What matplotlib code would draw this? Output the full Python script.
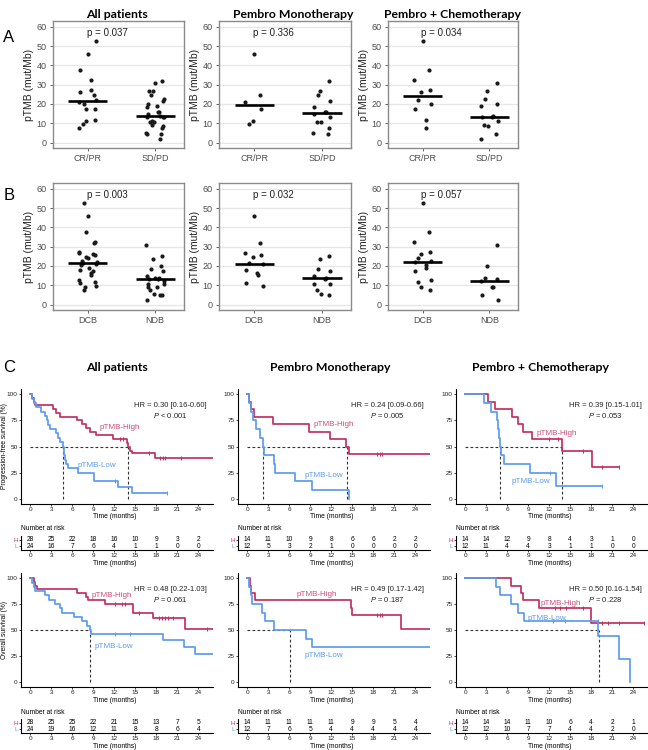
import numpy as np
import matplotlib
matplotlib.use('Agg')
import matplotlib.pyplot as plt

plt.rcParams['font.family'] = ['Liberation Sans', 'DejaVu Sans']
plt.rcParams['mathtext.fontset'] = 'custom'
plt.rcParams['mathtext.it'] = 'Liberation Sans:italic'
plt.rcParams['mathtext.rm'] = 'Liberation Sans'

# ------------------------------------------------------------------ data
panel_titles = ['All patients', 'Pembro Monotherapy', 'Pembro + Chemotherapy']
resp_cats = ['CR/PR', 'SD/PD']
benefit_cats = ['DCB', 'NDB']

# pTMB (mut/Mb) by response
all_crpr = [45.9, 24.8, 21.1, 17.5, 11.4, 9.5, 52.5, 37.4, 32.5, 27.0, 26.0, 22.0, 20.0, 17.5, 11.5, 7.8]
all_sdpd = [31.7, 26.9, 24.8, 21.3, 18.7, 16.1, 16.0, 14.7, 13.5, 10.6, 10.6, 7.5, 5.2, 4.5,
            31.0, 26.5, 22.5, 20.1, 19.2, 14.0, 13.2, 13.5, 11.4, 9.2, 8.7, 4.5, 1.9]
mono_crpr = [45.9, 24.8, 21.1, 17.5, 11.4, 9.5]
mono_sdpd = [31.7, 26.9, 24.8, 21.3, 18.7, 16.1, 16.0, 14.7, 13.5, 10.6, 10.6, 7.5, 5.2, 4.5]
chemo_crpr = [52.5, 37.4, 32.5, 27.0, 26.0, 22.0, 20.0, 17.5, 11.5, 7.8]
chemo_sdpd = [31.0, 26.5, 22.5, 20.1, 19.2, 14.0, 13.2, 13.5, 11.4, 9.2, 8.7, 4.5, 1.9]
p_resp = ['p = 0.037', 'p = 0.336', 'p = 0.034']

# pTMB by clinical benefit
all_dcb = [46.0, 31.8, 26.8, 25.6, 24.7, 21.3, 21.0, 17.8, 16.4, 15.2, 11.4, 9.7,
           52.5, 37.4, 32.5, 27.0, 26.0, 24.0, 22.5, 22.0, 20.3, 19.0, 17.5, 12.5, 11.5, 9.2, 7.8]
all_ndb = [25.2, 23.5, 18.7, 17.3, 14.7, 14.0, 13.5, 10.9, 10.9, 7.4, 5.7, 4.8,
           31.0, 20.0, 14.0, 13.1, 12.3, 9.2, 9.2, 4.8, 2.2]
mono_dcb = [46.0, 31.8, 26.8, 25.6, 24.7, 21.3, 21.0, 17.8, 16.4, 15.2, 11.4, 9.7]
mono_ndb = [25.2, 23.5, 18.7, 17.3, 14.7, 14.0, 13.5, 10.9, 10.9, 7.4, 5.7, 4.8]
chemo_dcb = [52.5, 37.4, 32.5, 27.0, 26.0, 24.0, 22.5, 22.0, 20.3, 19.0, 17.5, 12.5, 11.5, 9.2, 7.8]
chemo_ndb = [31.0, 20.0, 14.0, 13.1, 12.3, 9.2, 9.2, 4.8, 2.2]
p_benefit = ['p = 0.003', 'p = 0.032', 'p = 0.057']

# Kaplan-Meier: PFS
pfs_all_hi_t = [0, 0.3, 0.5, 0.7, 3.3, 3.7, 4.3, 6.7, 7.4, 8.0, 8.6, 9.4, 11.9, 13.8, 14.0, 14.3, 14.6, 17.8]
pfs_all_hi_s = [100, 96.4, 92.9, 89.3, 85.7, 82.1, 78.6, 75.0, 71.4, 67.9, 64.3, 60.7, 57.1, 53.3, 49.5, 46.0, 43.5, 39.2]
pfs_all_hi_c = [12.8, 13.3, 17.0, 18.6, 18.9, 19.3, 21.6]
pfs_all_hi_end = 26.1
pfs_all_lo_t = [0, 0.2, 0.5, 0.9, 1.6, 2.1, 2.4, 2.6, 2.9, 3.7, 4.0, 4.2, 4.7, 4.8, 4.9, 5.0, 5.1, 5.4, 6.8, 9.1, 12.6, 14.6]
pfs_all_lo_s = [100, 95.8, 91.7, 87.5, 83.3, 79.2, 75.0, 70.8, 66.7, 62.5, 58.3, 54.2, 50.0, 45.8, 41.7, 37.5, 33.3, 29.2, 25.0, 16.7, 11.1, 5.6]
pfs_all_lo_c = [12.1, 19.5]
pfs_all_lo_end = 19.5

pfs_mono_hi_t = [0, 0.2, 0.5, 0.95, 3.7, 8.9, 11.9, 14.1, 14.6]
pfs_mono_hi_s = [100, 92.9, 85.7, 78.6, 71.4, 64.3, 57.1, 50.0, 42.9]
pfs_mono_hi_c = [18.5, 18.9, 19.3]
pfs_mono_hi_end = 26.1
pfs_mono_lo_t = [0, 0.25, 0.55, 0.85, 1.3, 1.8, 2.3, 2.4, 3.9, 4.05, 6.9, 9.2, 14.6]
pfs_mono_lo_s = [100, 91.7, 83.3, 75.0, 66.7, 58.3, 50.0, 41.7, 33.3, 25.0, 16.7, 8.3, 0]
pfs_mono_lo_c = []
pfs_mono_lo_end = 14.6

pfs_chemo_hi_t = [0, 3.2, 4.25, 6.65, 7.6, 8.2, 9.5, 13.8, 18.1]
pfs_chemo_hi_s = [100, 92.9, 85.7, 78.6, 71.4, 64.3, 57.1, 45.7, 30.5]
pfs_chemo_hi_c = [12.0, 13.2, 16.8, 19.5, 21.9]
pfs_chemo_hi_end = 21.9
pfs_chemo_lo_t = [0, 2.7, 3.7, 4.5, 4.65, 4.9, 5.0, 5.1, 5.6, 9.2, 12.9]
pfs_chemo_lo_s = [100, 91.7, 83.3, 75.0, 66.7, 58.3, 50.0, 41.7, 33.3, 25.0, 12.5]
pfs_chemo_lo_c = [12.1, 19.5]
pfs_chemo_lo_end = 19.5

pfs_medians = [[4.7, 14.0], [2.3, 14.2], [5.0, 13.8]]
pfs_hr = ['HR = 0.30 [0.16-0.60]', 'HR = 0.24 [0.09-0.66]', 'HR = 0.39 [0.15-1.01]']
pfs_p = ['< 0.001', '= 0.005', '= 0.053']

# Kaplan-Meier: OS
os_all_hi_t = [0, 0.5, 0.7, 1.05, 6.65, 8.0, 8.2, 10.7, 14.7, 17.6, 22.1]
os_all_hi_s = [100, 96.4, 92.9, 89.3, 85.7, 82.1, 78.6, 75.0, 66.5, 61.6, 51.3]
os_all_hi_c = [12.1, 13.1, 13.5, 15.5, 18.4, 18.8, 19.2, 19.7, 20.4, 25.3]
os_all_hi_end = 26.1
os_all_lo_t = [0, 0.25, 0.5, 0.7, 2.1, 2.75, 3.55, 4.3, 4.5, 6.3, 7.4, 8.1, 8.5, 8.65, 19.0, 21.9, 23.5]
os_all_lo_s = [100, 95.8, 91.7, 87.5, 83.3, 79.2, 75.0, 70.8, 66.7, 62.5, 58.3, 54.2, 50.0, 45.8, 40.1, 33.4, 26.7]
os_all_lo_c = [12.1, 14.3]
os_all_lo_end = 26.1

os_mono_hi_t = [0, 0.4, 0.6, 1.1, 14.8, 14.9, 22.0]
os_mono_hi_s = [100, 92.9, 85.7, 78.6, 71.4, 64.3, 51.4]
os_mono_hi_c = [18.5, 18.9, 19.3]
os_mono_hi_end = 26.1
os_mono_lo_t = [0, 0.25, 0.5, 0.7, 2.15, 2.5, 3.9, 8.35, 9.3]
os_mono_lo_s = [100, 91.7, 83.3, 75.0, 66.7, 58.3, 50.0, 41.7, 33.3]
os_mono_lo_c = []
os_mono_lo_end = 26.1

os_chemo_hi_t = [0, 6.55, 8.0, 8.2, 10.6, 17.9]
os_chemo_hi_s = [100, 92.9, 85.7, 78.6, 71.4, 57.1]
os_chemo_hi_c = [12.8, 13.5, 14.4, 16.8, 19.5, 20.4, 21.9, 25.5]
os_chemo_hi_end = 25.5
os_chemo_lo_t = [0, 4.4, 5.0, 6.55, 7.5, 8.4, 19.0, 21.9, 23.6]
os_chemo_lo_s = [100, 91.7, 83.3, 75.0, 66.7, 58.3, 43.75, 21.9, 0]
os_chemo_lo_c = [12.6, 14.2, 18.9]
os_chemo_lo_end = 23.6

os_medians = [[8.6], [6.1], [19.1]]
os_hr = ['HR = 0.48 [0.22-1.03]', 'HR = 0.49 [0.17-1.42]', 'HR = 0.50 [0.16-1.54]']
os_p = ['= 0.061', '= 0.187', '= 0.228']

# Number at risk at 0,3,...,24 months
risk_times = [0, 3, 6, 9, 12, 15, 18, 21, 24]
pfs_risk_hi = [[28, 25, 22, 18, 16, 10, 9, 3, 2], [14, 11, 10, 9, 8, 6, 6, 2, 2], [14, 14, 12, 9, 8, 4, 3, 1, 0]]
pfs_risk_lo = [[24, 16, 7, 6, 4, 1, 1, 0, 0], [12, 5, 3, 2, 1, 0, 0, 0, 0], [12, 11, 4, 4, 3, 1, 1, 0, 0]]
os_risk_hi = [[28, 25, 25, 22, 21, 15, 13, 7, 5], [14, 11, 11, 11, 11, 9, 9, 5, 4], [14, 14, 14, 11, 10, 6, 4, 2, 1]]
os_risk_lo = [[24, 19, 16, 12, 11, 8, 8, 6, 4], [12, 7, 6, 5, 4, 4, 4, 4, 4], [12, 12, 10, 7, 7, 4, 4, 2, 0]]

# ------------------------------------------------------------------ style
RED = '#C2305E'
BLUE = '#5C9BEF'
W, H = 648, 750
fig = plt.figure(figsize=(W / 100, H / 100), dpi=100)


def ax_px(x0, y0, x1, y1):
    return fig.add_axes([x0 / W, 1 - y1 / H, (x1 - x0) / W, (y1 - y0) / H])


def ftext(x, y, s, **kw):
    fig.text(x / W, 1 - y / H, s, **kw)


TITLE_KW = dict(fontsize=8.8, fontweight='bold', family=['Lato', 'DejaVu Sans'], ha='center', va='center')

# ------------------------------------------------------------------ dot plots
dot_x = [(53, 184), (219, 351), (388, 518)]
dot_rows = [(21, 148), (183, 310)]
resp_sets = [(all_crpr, all_sdpd), (mono_crpr, mono_sdpd), (chemo_crpr, chemo_sdpd)]
ben_sets = [(all_dcb, all_ndb), (mono_dcb, mono_ndb), (chemo_dcb, chemo_ndb)]


def dot_panel(ax, groups, cats, ptxt):
    ax.set_xlim(0.48, 2.43)
    ax.set_ylim(-2.8, 63)
    ax.set_yticks(range(0, 61, 10))
    for yv in range(0, 61, 10):
        ax.axhline(yv, color='#E6E6E6', lw=0.9, zorder=0)
    for gi, vals in enumerate(groups):
        v = np.array(vals, dtype=float)
        idx = np.arange(len(v))
        jit = 0.13 * np.sin(idx * 2.399 + gi)
        ax.scatter(gi + 1 + jit, v, s=9, color='#1A1A1A', zorder=3, linewidths=0)
        med = np.median(v)
        ax.plot([gi + 1 - 0.29, gi + 1 + 0.29], [med, med], color='black', lw=1.9, zorder=4, solid_capstyle='butt')
    ax.set_xticks([1, 2])
    ax.set_xticklabels(cats)
    ax.tick_params(labelsize=6.5, colors='#4D4D4D', length=2.5, width=0.6, pad=2)
    ax.set_ylabel('pTMB (mut/Mb)', fontsize=7.5, color='#222222', labelpad=2)
    for sp in ax.spines.values():
        sp.set_color('#8A8A8A')
        sp.set_linewidth(1.0)
    ax.text(0.98, 57, ptxt, fontsize=7, color='#222222', ha='left', va='center')


for ri, (sets, cats, ps) in enumerate([(resp_sets, resp_cats, p_resp), (ben_sets, benefit_cats, p_benefit)]):
    y0, y1 = dot_rows[ri]
    for ci in range(3):
        ax = ax_px(dot_x[ci][0], y0, dot_x[ci][1], y1)
        dot_panel(ax, sets[ci], cats, ps[ci])

for ci, cx in enumerate([117, 293, 452]):
    ftext(cx, 15, panel_titles[ci], **TITLE_KW)
ftext(9, 38, 'A', fontsize=12, ha='center', va='center')
ftext(9, 195, 'B', fontsize=12, ha='center', va='center')
ftext(9, 368, 'C', fontsize=12, ha='center', va='center')

# ------------------------------------------------------------------ KM panels
km_x = [(21, 213), (238, 430), (456, 648)]
pfs_curves = [
    ((pfs_all_hi_t, pfs_all_hi_s, pfs_all_hi_c, pfs_all_hi_end), (pfs_all_lo_t, pfs_all_lo_s, pfs_all_lo_c, pfs_all_lo_end)),
    ((pfs_mono_hi_t, pfs_mono_hi_s, pfs_mono_hi_c, pfs_mono_hi_end), (pfs_mono_lo_t, pfs_mono_lo_s, pfs_mono_lo_c, pfs_mono_lo_end)),
    ((pfs_chemo_hi_t, pfs_chemo_hi_s, pfs_chemo_hi_c, pfs_chemo_hi_end), (pfs_chemo_lo_t, pfs_chemo_lo_s, pfs_chemo_lo_c, pfs_chemo_lo_end)),
]
os_curves = [
    ((os_all_hi_t, os_all_hi_s, os_all_hi_c, os_all_hi_end), (os_all_lo_t, os_all_lo_s, os_all_lo_c, os_all_lo_end)),
    ((os_mono_hi_t, os_mono_hi_s, os_mono_hi_c, os_mono_hi_end), (os_mono_lo_t, os_mono_lo_s, os_mono_lo_c, os_mono_lo_end)),
    ((os_chemo_hi_t, os_chemo_hi_s, os_chemo_hi_c, os_chemo_hi_end), (os_chemo_lo_t, os_chemo_lo_s, os_chemo_lo_c, os_chemo_lo_end)),
]

# label positions (time, %) for the group labels
pfs_lab = [((12.8, 68.5), (9.5, 31.5)), ((12.4, 71.3), (11.0, 22.3)), ((13.0, 62.7), (9.4, 16.6))]
os_lab = [((11.6, 83.3), (11.9, 34.0)), ((10.0, 84.6), (11.0, 25.6)), ((13.7, 76.0), (11.6, 61.5))]

XT = list(range(0, 25, 3))


def style_axis(ax):
    ax.set_xlim(-1.3, 26.1)
    ax.set_xticks(XT)
    for sp in ['top', 'right']:
        ax.spines[sp].set_visible(False)
    for sp in ['left', 'bottom']:
        ax.spines[sp].set_linewidth(0.8)
    ax.tick_params(labelsize=4.6, length=1.6, width=0.6, pad=0.8, colors='#222222')


def draw_curve(ax, t, s, cens, end, color):
    xs = list(t) + [end]
    ys = list(s) + [s[-1]]
    ax.step(xs, ys, where='post', color=color, lw=1.25, zorder=3)
    if cens:
        tt = np.array(t)
        cy = [s[np.searchsorted(tt, c, side='right') - 1] for c in cens]
        ax.plot(cens, cy, ls='none', marker='|', ms=3, mew=0.7, color=color, zorder=4)


def km_panel(ax, curves, meds, labs, hr, p):
    style_axis(ax)
    ax.set_ylim(-5, 105)
    ax.set_yticks([0, 25, 50, 75, 100])
    (hi, lo) = curves
    draw_curve(ax, *hi, RED)
    draw_curve(ax, *lo, BLUE)
    ax.plot([0, max(meds)], [50, 50], ls=(0, (2.5, 2)), color='#333333', lw=0.8, zorder=2)
    for m in meds:
        ax.plot([m, m], [0, 50], ls=(0, (2.5, 2)), color='#333333', lw=0.8, zorder=2)
    ax.text(labs[0][0], labs[0][1], 'pTMB-High', color=RED, fontsize=5.8, ha='center', va='center', alpha=0.85)
    ax.text(labs[1][0], labs[1][1], 'pTMB-Low', color=BLUE, fontsize=5.8, ha='center', va='center')
    ax.text(20.0, 89.5, hr, fontsize=5.5, ha='center', va='center', color='#222222')
    ax.text(20.0, 79.5, r'$\it{P}$ ' + p, fontsize=5.5, ha='center', va='center', color='#222222')


def risk_table(ax, hi, lo):
    style_axis(ax)
    ax.set_ylim(0, 3)
    ax.set_yticks([2.15, 0.85])
    ax.set_yticklabels(['H', 'L'])
    ax.get_yticklabels()[0].set_color(RED)
    ax.get_yticklabels()[1].set_color(BLUE)
    for tx, a, b in zip(risk_times, hi, lo):
        ax.text(tx, 2.15, str(a), fontsize=4.8, ha='center', va='center')
        ax.text(tx, 0.85, str(b), fontsize=4.8, ha='center', va='center')


for ci in range(3):
    x0, x1 = km_x[ci]
    xc = x0 + (12 + 1.3) / 27.4 * (x1 - x0)
    ax = ax_px(x0, 389, x1, 504)
    km_panel(ax, pfs_curves[ci], pfs_medians[ci], pfs_lab[ci], pfs_hr[ci], pfs_p[ci])
    ftext(xc, 517, 'Time (months)', fontsize=4.9, ha='center', va='center')
    tax = ax_px(x0, 536, x1, 550)
    risk_table(tax, pfs_risk_hi[ci], pfs_risk_lo[ci])
    ftext(xc, 563.5, 'Time (months)', fontsize=4.9, ha='center', va='center')
    ftext(x0, 529, 'Number at risk', fontsize=4.8, ha='left', va='center')

    ax = ax_px(x0, 573, x1, 687)
    km_panel(ax, os_curves[ci], os_medians[ci], os_lab[ci], os_hr[ci], os_p[ci])
    ftext(xc, 701, 'Time (months)', fontsize=4.9, ha='center', va='center')
    tax = ax_px(x0, 719, x1, 733)
    risk_table(tax, os_risk_hi[ci], os_risk_lo[ci])
    ftext(xc, 746.5, 'Time (months)', fontsize=4.9, ha='center', va='center')
    ftext(x0, 713, 'Number at risk', fontsize=4.8, ha='left', va='center')

ftext(5, 446, 'Progression-free survival (%)', fontsize=4.8, rotation=90, ha='center', va='center')
ftext(5, 630, 'Overall survival (%)', fontsize=4.8, rotation=90, ha='center', va='center')

for ci, cx in enumerate([117, 330, 540]):
    ftext(cx, 368, panel_titles[ci], **TITLE_KW)

fig.savefig('out.png', dpi=100)
